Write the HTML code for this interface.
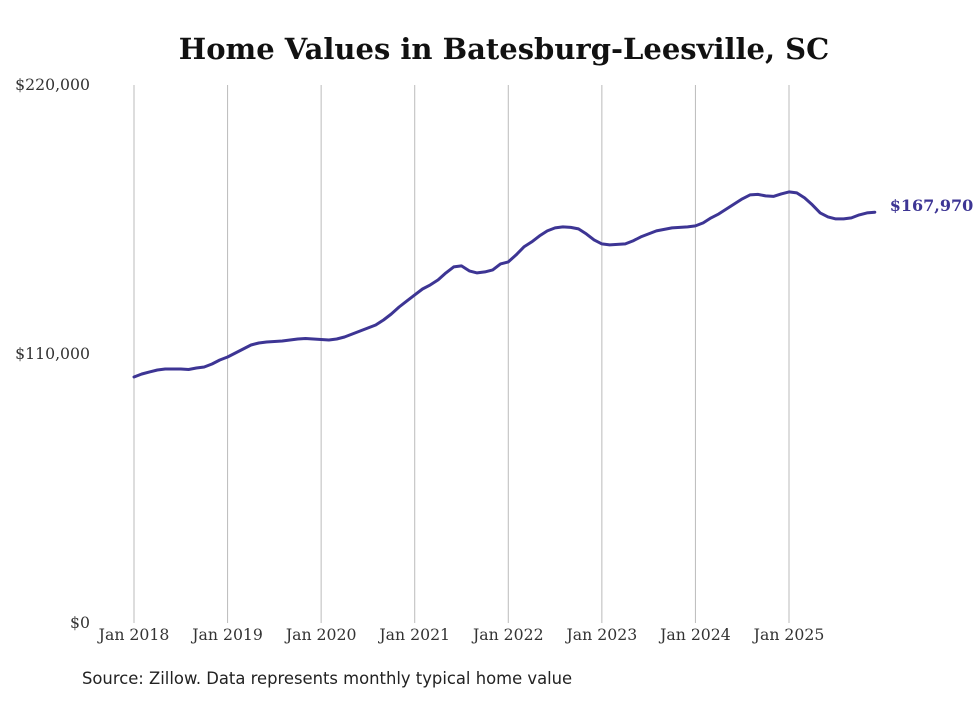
<!DOCTYPE html>
<html><head><meta charset="utf-8"><style>
body{margin:0;background:#fff;width:980px;height:699px;overflow:hidden}
svg text{font-family:"DejaVu Serif","Liberation Serif",serif}
</style></head><body>
<svg id="chart" width="980" height="699" xmlns="http://www.w3.org/2000/svg">
<text x="504" y="59" text-anchor="middle" font-size="29" font-weight="bold" fill="#111">Home Values in Batesburg-Leesville, SC</text>
<g id="grid"></g><g id="yaxis"></g><g id="xaxis"></g><g id="series"></g>
<text x="82" y="684" font-size="16.4" fill="#222" style="font-family:'DejaVu Sans',sans-serif">Source: Zillow. Data represents monthly typical home value</text>
</svg>
<script>
const yTicks=[0,110000,220000];
const yTickLabels=["$0","$110,000","$220,000"];
const xYears=[2018,2019,2020,2021,2022,2023,2024,2025];
const xTickLabels=["Jan 2018","Jan 2019","Jan 2020","Jan 2021","Jan 2022","Jan 2023","Jan 2024","Jan 2025"];
const startYear=2018;
const values=[100600,101840,102660,103470,103880,103880,103880,103680,104290,104700,105900,107540,
108770,110400,112040,113680,114500,114900,115100,115310,115720,116130,116330,116130,
115920,115720,116130,116950,118170,119400,120630,121860,123900,126360,129220,131700,
134150,136600,138240,140290,143150,145600,146010,143970,143150,143560,144380,146830,
147650,150510,153780,155830,158280,160330,161560,161960,161760,161150,159100,156650,
155010,154600,154800,155010,156240,157870,159100,160330,160940,161560,161760,161960,
162370,163600,165650,167280,169330,171370,173420,175050,175260,174640,174440,175460,
176280,175870,173830,170960,167690,166050,165240,165240,165650,166870,167690,167970];
const endLabel="$167,970";
const NS="http://www.w3.org/2000/svg";
const x=m=>134+m*(655/84);
const y=v=>623-v*(538/220000);
function mk(t,a,p){const e=document.createElementNS(NS,t);for(const k in a)e.setAttribute(k,a[k]);document.getElementById(p).appendChild(e);return e;}
xYears.forEach((yr,i)=>{
 const m=(yr-startYear)*12;
 const l=mk('line',{x1:x(m),x2:x(m),y1:85,y2:623,stroke:'#bbb','stroke-width':1},'grid');
 
 
 const t=mk('text',{x:x(m),y:640,'text-anchor':'middle','font-size':15.7,fill:'#333'},'xaxis');
 t.textContent=xTickLabels[i];
 
 
});
yTicks.forEach((v,i)=>{
 const t=mk('text',{x:90,y:y(v)+5,'text-anchor':'end','font-size':15.7,fill:'#333'},'yaxis');
 t.textContent=yTickLabels[i];
 
 
});
const d=values.map((v,i)=>(i?'L':'M')+x(i).toFixed(1)+','+y(v).toFixed(1)).join('');
const p=mk('path',{d:d,fill:'none',stroke:'#3d3594','stroke-width':3,'stroke-linejoin':'round','stroke-linecap':'round'},'series');


const last=values.length-1;
const el=mk('text',{x:x(last)+15,y:y(values[last])-1,'font-size':16,'font-weight':'bold',fill:'#3d3594'},'series');
el.textContent=endLabel;


</script>
</body></html>
